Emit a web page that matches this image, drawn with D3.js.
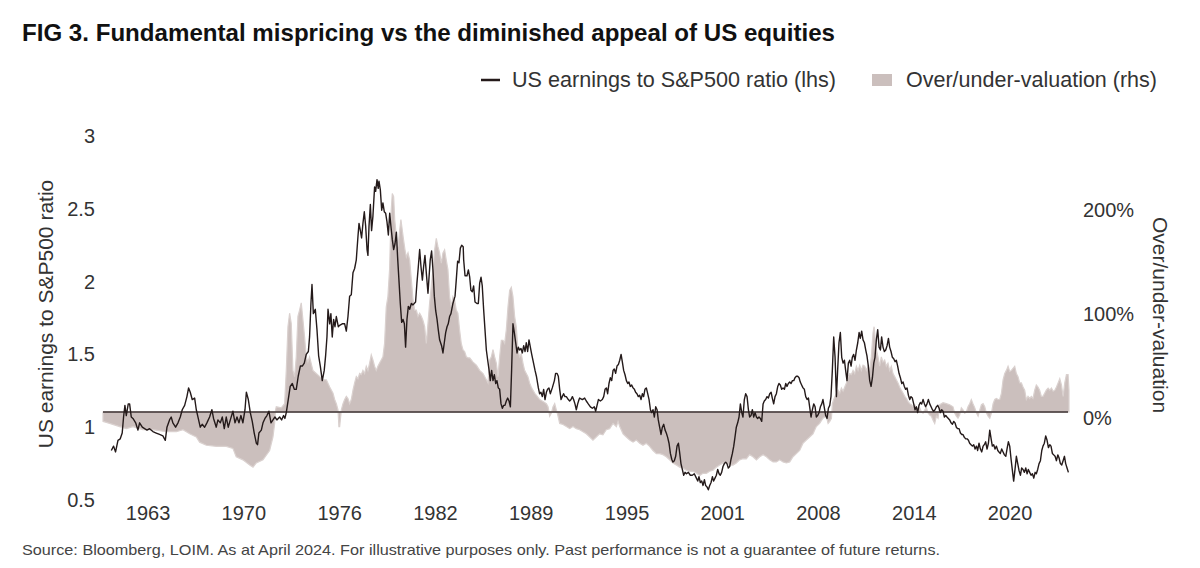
<!DOCTYPE html>
<html>
<head>
<meta charset="utf-8">
<script src="https://cdn.jsdelivr.net/npm/d3@7"></script>
<style>
  body { margin: 0; background: #fff; }
  svg { display: block; font-family: "Liberation Sans", Arial, Helvetica, sans-serif; }
</style>
</head>
<body>
<svg id="chart" width="1200" height="568"></svg>
<script>
// US earnings to S&P500 ratio (lhs): [decimal year, ratio]
const ratioPoints = [
  [1961.40,0.84],[1961.55,0.87],[1961.68,0.83],[1961.84,0.91],[1961.99,0.92],[1962.12,0.96],[1962.21,1.07],[1962.30,1.15],
  [1962.39,1.08],[1962.52,1.16],[1962.61,1.16],[1962.72,1.07],[1962.83,1.06],[1963.01,1.03],[1963.16,0.98],[1963.27,1.03],
  [1963.45,1.00],[1963.60,0.99],[1963.76,0.98],[1963.93,0.99],[1964.15,0.97],[1964.37,0.96],[1964.59,0.95],[1964.81,0.94],
  [1964.97,0.91],[1965.08,1.00],[1965.25,1.05],[1965.36,1.07],[1965.47,1.03],[1965.65,1.00],[1965.81,1.03],[1965.96,1.07],
  [1966.09,1.12],[1966.25,1.15],[1966.40,1.21],[1966.51,1.27],[1966.62,1.24],[1966.75,1.19],[1966.91,1.20],[1967.02,1.12],
  [1967.15,1.06],[1967.28,1.00],[1967.41,1.02],[1967.57,1.00],[1967.72,1.03],[1967.90,1.07],[1968.05,1.12],[1968.16,1.06],
  [1968.34,1.00],[1968.45,1.05],[1968.61,1.03],[1968.74,1.07],[1968.87,0.99],[1969.00,1.07],[1969.13,1.00],[1969.27,1.05],
  [1969.44,1.11],[1969.58,1.03],[1969.71,1.07],[1969.84,1.03],[1969.97,1.08],[1970.10,1.03],[1970.24,1.12],[1970.33,1.24],
  [1970.46,1.19],[1970.59,1.10],[1970.72,1.04],[1970.85,0.96],[1970.99,0.89],[1971.07,0.88],[1971.16,0.96],[1971.32,0.98],
  [1971.43,1.03],[1971.56,1.06],[1971.69,1.08],[1971.82,1.11],[1971.96,1.03],[1972.09,1.05],[1972.22,1.07],[1972.35,1.05],
  [1972.53,1.07],[1972.66,1.05],[1972.79,1.08],[1972.88,1.06],[1972.97,1.10],[1973.10,1.19],[1973.23,1.28],[1973.37,1.30],
  [1973.50,1.26],[1973.63,1.26],[1973.76,1.35],[1973.90,1.42],[1974.03,1.42],[1974.16,1.44],[1974.29,1.50],[1974.43,1.52],
  [1974.51,1.62],[1974.60,1.85],[1974.67,1.98],[1974.76,1.78],[1974.89,1.81],[1975.00,1.67],[1975.11,1.49],[1975.22,1.42],
  [1975.35,1.32],[1975.48,1.39],[1975.57,1.49],[1975.66,1.62],[1975.73,1.81],[1975.84,1.71],[1975.92,1.78],[1976.01,1.62],
  [1976.10,1.74],[1976.19,1.69],[1976.28,1.76],[1976.41,1.69],
  [1976.50,1.70],[1976.67,1.71],[1976.83,1.71],[1976.94,1.66],[1977.05,1.76],[1977.16,1.90],[1977.27,1.91],[1977.38,2.06],
  [1977.49,2.09],[1977.60,2.15],[1977.71,2.31],[1977.78,2.40],[1977.87,2.35],[1977.95,2.30],[1978.04,2.40],[1978.13,2.48],
  [1978.22,2.38],[1978.31,2.22],[1978.37,2.18],[1978.44,2.38],[1978.53,2.53],[1978.61,2.35],[1978.70,2.45],[1978.81,2.65],
  [1978.88,2.62],[1978.97,2.70],[1979.05,2.64],[1979.10,2.69],[1979.19,2.63],[1979.28,2.49],[1979.36,2.54],[1979.45,2.48],
  [1979.54,2.47],[1979.63,2.41],[1979.72,2.32],[1979.81,2.47],[1979.89,2.38],[1979.98,2.29],[1980.07,2.22],[1980.16,2.26],
  [1980.25,2.34],[1980.33,2.17],[1980.42,2.01],[1980.51,1.85],[1980.60,1.72],[1980.69,1.74],[1980.78,1.71],[1980.86,1.55],
  [1980.95,1.74],[1981.04,1.83],[1981.13,1.81],[1981.24,1.85],[1981.35,1.84],[1981.52,1.86],[1981.61,1.99],[1981.70,2.10],
  [1981.79,2.22],[1981.88,2.10],[1981.97,2.01],[1982.05,2.10],[1982.14,2.18],[1982.23,2.06],[1982.34,1.92],[1982.41,2.03],
  [1982.49,2.15],[1982.58,2.21],[1982.67,2.08],[1982.76,1.90],[1982.85,1.80],[1982.94,1.74],[1983.02,1.67],[1983.11,1.60],
  [1983.24,1.56],[1983.33,1.51],[1983.42,1.58],[1983.51,1.65],[1983.60,1.69],[1983.68,1.71],[1983.77,1.76],[1983.86,1.78],
  [1983.99,1.85],[1984.13,1.90],[1984.21,2.01],[1984.30,2.14],[1984.39,2.13],[1984.48,2.23],[1984.57,2.25],[1984.67,2.24],
  [1984.70,2.15],[1984.79,2.04],[1984.92,2.04],[1985.01,2.08],[1985.10,2.03],[1985.18,1.94],[1985.27,1.93],[1985.36,1.97],
  [1985.45,1.86],[1985.58,1.85],[1985.67,1.85],[1985.76,1.99],[1985.85,2.03],[1985.93,1.97],[1986.02,1.81],[1986.11,1.67],
  [1986.20,1.53],[1986.29,1.46],[1986.37,1.40],[1986.46,1.32],[1986.55,1.39],[1986.64,1.32],[1986.73,1.36],[1986.82,1.30],
  [1986.90,1.32],[1986.99,1.27],[1987.08,1.26],[1987.17,1.16],[1987.26,1.13],[1987.34,1.15],[1987.43,1.15],[1987.52,1.18],
  [1987.61,1.20],[1987.70,1.18],[1987.79,1.14],[1987.87,1.39],[1987.96,1.71],[1988.05,1.65],[1988.14,1.58],[1988.23,1.51],
  [1988.31,1.55],[1988.40,1.53],[1988.49,1.54],[1988.58,1.51],[1988.67,1.56],[1988.76,1.52],[1988.84,1.58],[1988.93,1.52],
  [1989.02,1.60],[1989.11,1.55],[1989.20,1.50],[1989.28,1.46],[1989.42,1.39],[1989.51,1.35],[1989.64,1.27],[1989.72,1.23],
  [1989.81,1.24],[1989.90,1.21],[1989.99,1.26],[1990.08,1.19],[1990.17,1.24],[1990.25,1.26],[1990.34,1.27],[1990.43,1.23],
  [1990.56,1.27],[1990.70,1.32],[1990.78,1.37],[1990.87,1.37],[1990.96,1.35],[1991.05,1.26],[1991.14,1.19],[1991.22,1.21],
  [1991.31,1.23],[1991.40,1.21],[1991.49,1.21],[1991.62,1.19],[1991.71,1.18],[1991.80,1.19],[1991.89,1.21],[1991.97,1.19],
  [1992.06,1.16],[1992.15,1.12],[1992.24,1.16],[1992.33,1.19],
  [1992.37,1.20],[1992.55,1.19],[1992.70,1.20],[1992.81,1.18],[1992.94,1.16],[1993.08,1.14],[1993.21,1.13],[1993.34,1.14],
  [1993.43,1.11],[1993.52,1.15],[1993.61,1.19],[1993.74,1.18],[1993.87,1.19],[1993.96,1.21],[1994.05,1.26],[1994.14,1.27],
  [1994.22,1.23],[1994.31,1.30],[1994.40,1.34],[1994.49,1.32],[1994.58,1.39],[1994.66,1.40],[1994.75,1.37],[1994.84,1.42],
  [1994.93,1.43],[1995.02,1.46],[1995.11,1.50],[1995.19,1.45],[1995.28,1.39],[1995.37,1.36],[1995.46,1.32],[1995.55,1.30],
  [1995.63,1.31],[1995.72,1.28],[1995.81,1.29],[1995.90,1.27],[1995.99,1.26],[1996.07,1.24],[1996.16,1.23],[1996.25,1.21],
  [1996.34,1.22],[1996.43,1.19],[1996.52,1.23],[1996.60,1.21],[1996.69,1.26],[1996.78,1.27],[1996.87,1.23],[1996.96,1.19],
  [1997.05,1.12],[1997.13,1.10],[1997.22,1.12],[1997.31,1.07],[1997.40,1.14],[1997.49,1.12],[1997.57,1.05],[1997.66,1.00],
  [1997.75,0.95],[1997.84,1.00],[1997.93,1.02],[1998.02,0.98],[1998.10,0.96],[1998.19,0.93],[1998.28,0.89],[1998.37,0.82],
  [1998.46,0.78],[1998.54,0.76],[1998.63,0.77],[1998.72,0.80],[1998.81,0.87],[1998.90,0.89],[1998.99,0.82],[1999.07,0.75],
  [1999.16,0.71],[1999.25,0.67],[1999.34,0.69],[1999.43,0.68],[1999.56,0.69],[1999.69,0.67],[1999.82,0.67],[1999.95,0.68],
  [2000.09,0.65],[2000.18,0.63],[2000.26,0.66],[2000.35,0.62],[2000.44,0.63],[2000.53,0.60],[2000.62,0.64],[2000.70,0.60],
  [2000.79,0.59],[2000.88,0.57],[2000.97,0.60],[2001.06,0.62],[2001.15,0.66],[2001.23,0.63],[2001.32,0.65],[2001.41,0.67],
  [2001.50,0.71],[2001.59,0.68],[2001.67,0.67],[2001.76,0.69],[2001.85,0.73],[2001.94,0.75],[2002.03,0.76],[2002.11,0.75],
  [2002.20,0.72],[2002.29,0.73],[2002.38,0.78],[2002.47,0.82],[2002.56,0.87],[2002.64,0.93],[2002.73,1.00],[2002.82,1.03],
  [2002.91,1.07],[2003.00,1.16],[2003.09,1.10],[2003.17,1.07],[2003.26,1.19],[2003.35,1.23],[2003.44,1.21],[2003.53,1.12],
  [2003.61,1.07],[2003.70,1.08],[2003.79,1.12],[2003.88,1.07],[2003.97,1.10],[2004.06,1.07],[2004.14,1.06],[2004.23,1.07],
  [2004.32,1.06],[2004.41,1.04],[2004.50,1.16],[2004.58,1.18],[2004.67,1.19],[2004.76,1.21],[2004.85,1.20],[2004.94,1.23],
  [2005.03,1.24],[2005.11,1.20],[2005.20,1.16],[2005.29,1.21],[2005.38,1.23],[2005.47,1.28],[2005.55,1.30],[2005.64,1.29],
  [2005.73,1.26],[2005.82,1.27],[2005.91,1.26],[2006.00,1.30],[2006.08,1.28],[2006.17,1.30],[2006.26,1.31],[2006.35,1.30],
  [2006.44,1.32],[2006.53,1.32],[2006.61,1.34],[2006.70,1.35],[2006.79,1.35],[2006.88,1.34],[2006.96,1.31],[2007.05,1.29],
  [2007.14,1.27],[2007.23,1.26],[2007.32,1.21],[2007.41,1.19],[2007.50,1.20],[2007.58,1.14],[2007.67,1.07],[2007.76,1.12],
  [2007.85,1.16],[2007.94,1.14],[2008.02,1.07],[2008.11,1.08],[2008.20,1.10],[2008.29,1.14],[2008.38,1.16],[2008.46,1.19],
  [2008.64,1.08],[2008.73,1.06],[2008.82,1.13],[2008.91,1.15],[2008.99,1.21],[2009.08,1.39],[2009.17,1.62],[2009.26,1.48],
  [2009.35,1.21],[2009.43,1.39],[2009.52,1.58],[2009.61,1.65],[2009.70,1.48],[2009.79,1.44],[2009.88,1.46],[2009.96,1.39],
  [2010.05,1.32],[2010.14,1.44],[2010.23,1.46],[2010.32,1.42],[2010.40,1.48],[2010.49,1.50],[2010.58,1.46],[2010.67,1.53],
  [2010.76,1.58],[2010.85,1.65],[2010.93,1.61],[2011.02,1.66],[2011.11,1.60],[2011.20,1.58],[2011.29,1.53],[2011.37,1.49],
  [2011.46,1.42],[2011.55,1.32],[2011.64,1.28],[2011.73,1.34],[2011.82,1.44],[2011.90,1.48],[2011.99,1.60],[2012.08,1.67],
  [2012.17,1.55],[2012.26,1.53],[2012.34,1.62],[2012.43,1.55],[2012.52,1.52],[2012.61,1.53],[2012.70,1.56],[2012.79,1.61],
  [2012.87,1.55],[2012.96,1.52],[2013.05,1.48],[2013.14,1.47],[2013.23,1.45],[2013.31,1.46],[2013.40,1.42],[2013.49,1.37],
  [2013.58,1.34],[2013.67,1.30],[2013.76,1.31],[2013.84,1.28],[2013.93,1.26],[2014.02,1.27],[2014.11,1.22],[2014.20,1.19],
  [2014.28,1.21],[2014.37,1.20],[2014.46,1.16],[2014.55,1.12],[2014.64,1.14],[2014.72,1.10],[2014.81,1.15],[2014.90,1.17],
  [2014.99,1.16],[2015.08,1.19],[2015.17,1.16],[2015.25,1.14],[2015.34,1.16],[2015.43,1.19],[2015.52,1.16],[2015.61,1.14],
  [2015.70,1.12],[2015.78,1.11],[2015.87,1.12],[2015.96,1.14],[2016.05,1.15],[2016.14,1.13],[2016.22,1.10],[2016.31,1.12],
  [2016.40,1.11],[2016.49,1.07],[2016.58,1.08],[2016.66,1.07],[2016.75,1.06],[2016.84,1.05],[2016.93,1.03],[2017.02,1.02],
  [2017.11,1.04],[2017.19,1.03],[2017.28,1.00],[2017.37,0.99],[2017.46,0.99],[2017.55,0.96],[2017.64,0.95],[2017.72,0.95],
  [2017.81,0.93],[2017.90,0.92],[2017.99,0.92],[2018.08,0.91],[2018.16,0.89],[2018.25,0.88],[2018.34,0.87],[2018.43,0.88],
  [2018.52,0.85],[2018.61,0.87],[2018.69,0.84],[2018.78,0.89],[2018.87,0.85],[2018.96,0.83],[2019.05,0.87],[2019.13,0.88],
  [2019.22,0.90],[2019.31,0.85],[2019.40,0.89],[2019.49,0.98],[2019.58,0.92],[2019.66,0.87],[2019.75,0.88],[2019.84,0.85],
  [2019.93,0.87],[2020.02,0.84],[2020.10,0.83],[2020.19,0.82],[2020.28,0.85],[2020.37,0.83],[2020.46,0.81],[2020.55,0.80],
  [2020.63,0.85],[2020.72,0.90],[2020.81,0.87],[2020.90,0.78],[2020.99,0.70],[2021.07,0.63],[2021.16,0.71],[2021.25,0.80],
  [2021.34,0.75],[2021.43,0.70],[2021.52,0.67],[2021.60,0.72],[2021.69,0.71],[2021.78,0.69],[2021.87,0.72],[2021.96,0.68],
  [2022.04,0.71],[2022.13,0.69],[2022.22,0.67],[2022.31,0.68],[2022.40,0.65],[2022.49,0.69],[2022.57,0.68],[2022.66,0.71],
  [2022.75,0.75],[2022.84,0.77],[2022.93,0.84],[2023.01,0.87],[2023.10,0.89],[2023.19,0.94],[2023.28,0.91],[2023.37,0.86],
  [2023.46,0.88],[2023.54,0.87],[2023.63,0.82],[2023.72,0.81],[2023.81,0.80],[2023.90,0.77],[2023.99,0.81],[2024.07,0.79],
  [2024.16,0.75],[2024.25,0.74],[2024.34,0.77],[2024.43,0.80],[2024.51,0.75],[2024.60,0.72],[2024.69,0.69]
];

// Over/under-valuation (rhs): [decimal year, fraction where 1 = 100%]
const valuationPoints = [
  [1960.85,-0.09],[1961.29,-0.11],[1961.95,-0.14],[1962.39,-0.16],[1962.83,-0.14],[1963.49,-0.17],[1964.15,-0.17],[1965.03,-0.19],
  [1965.70,-0.19],[1966.14,-0.17],[1966.58,-0.21],[1967.02,-0.24],[1967.24,-0.29],[1967.68,-0.32],[1968.34,-0.33],[1969.00,-0.33],
  [1969.44,-0.35],[1969.66,-0.43],[1970.10,-0.46],[1970.55,-0.51],[1970.77,-0.53],[1970.99,-0.49],[1971.43,-0.46],[1971.87,-0.37],
  [1972.09,-0.24],[1972.20,-0.11],[1972.26,0.02],[1972.31,0.05],[1972.64,0.04],[1972.86,0.08],[1972.97,0.40],[1973.08,0.82],
  [1973.19,0.95],[1973.30,0.85],[1973.41,0.40],[1973.52,0.34],[1973.63,0.53],[1973.74,0.92],[1973.85,0.98],[1973.96,1.05],
  [1974.07,0.89],[1974.18,0.72],[1974.29,0.53],[1974.40,0.48],[1974.51,0.53],[1974.73,0.40],[1974.95,0.37],[1975.18,0.34],
  [1975.40,0.31],[1975.62,0.31],[1975.84,0.24],[1976.06,0.18],[1976.17,0.12],[1976.28,0.08],[1976.39,0.02],[1976.45,-0.14],
  [1976.50,-0.14],[1976.61,0.02],[1976.72,0.08],[1976.83,0.12],[1976.94,0.15],[1977.05,0.13],[1977.16,0.08],[1977.27,0.12],
  [1977.38,0.21],[1977.49,0.28],[1977.60,0.34],[1977.71,0.32],[1977.82,0.37],[1977.93,0.36],[1978.04,0.40],[1978.15,0.37],
  [1978.26,0.44],[1978.37,0.40],[1978.48,0.47],[1978.59,0.55],[1978.70,0.50],[1978.81,0.44],[1978.92,0.40],[1979.03,0.44],
  [1979.14,0.47],[1979.25,0.50],[1979.36,0.53],[1979.47,0.66],[1979.58,1.01],[1979.69,1.11],[1979.80,1.37],[1979.91,1.94],
  [1979.98,2.10],[1980.07,2.07],[1980.14,1.85],[1980.25,1.69],[1980.36,1.59],[1980.47,1.75],[1980.55,1.85],[1980.64,1.75],
  [1980.73,1.65],[1980.82,1.56],[1980.91,1.49],[1981.02,1.53],[1981.13,1.46],[1981.24,1.27],[1981.35,1.08],[1981.46,0.98],
  [1981.57,0.98],[1981.68,0.92],[1981.79,0.95],[1981.90,0.92],[1982.01,0.88],[1982.12,0.82],[1982.23,0.66],[1982.34,0.85],
  [1982.45,1.05],[1982.56,1.21],[1982.67,1.37],[1982.78,1.56],[1982.89,1.67],[1983.00,1.59],[1983.11,1.53],[1983.22,1.43],
  [1983.33,1.53],[1983.44,1.56],[1983.55,1.46],[1983.66,1.37],[1983.77,1.11],[1983.88,1.01],[1983.99,1.11],[1984.10,1.08],
  [1984.21,0.98],[1984.32,0.95],[1984.43,0.79],[1984.54,0.66],[1984.65,0.60],[1984.77,0.58],[1984.88,0.53],[1984.99,0.52],
  [1985.10,0.52],[1985.32,0.48],[1985.54,0.45],[1985.76,0.40],[1985.98,0.37],[1986.20,0.31],[1986.31,0.28],[1986.42,0.50],
  [1986.53,0.53],[1986.64,0.60],[1986.75,0.53],[1986.86,0.47],[1986.97,0.34],[1987.08,0.53],[1987.19,0.69],[1987.30,0.69],
  [1987.41,0.66],[1987.52,0.79],[1987.63,1.01],[1987.74,1.17],[1987.85,1.20],[1987.96,1.11],[1988.07,0.92],[1988.18,0.82],
  [1988.29,0.60],[1988.40,0.53],[1988.51,0.56],[1988.62,0.47],[1988.73,0.40],[1988.84,0.37],[1988.95,0.34],[1989.06,0.28],
  [1989.17,0.24],[1989.28,0.21],[1989.40,0.18],[1989.51,0.16],[1989.73,0.12],[1989.95,0.10],[1990.17,0.08],[1990.28,0.05],
  [1990.39,-0.04],[1990.50,-0.01],[1990.61,0.05],[1990.72,0.08],[1990.83,0.02],[1990.94,-0.04],[1991.05,-0.11],[1991.27,-0.12],
  [1991.49,-0.14],[1991.71,-0.16],[1991.93,-0.14],[1992.15,-0.16],
  [1992.37,-0.17],[1992.81,-0.21],[1993.25,-0.27],[1993.47,-0.24],[1993.69,-0.21],[1993.91,-0.22],[1994.13,-0.17],[1994.35,-0.16],
  [1994.58,-0.11],[1994.80,-0.14],[1994.91,-0.09],[1995.02,-0.14],[1995.24,-0.21],[1995.46,-0.24],[1995.68,-0.27],[1995.90,-0.29],
  [1996.12,-0.27],[1996.34,-0.30],[1996.56,-0.32],[1996.78,-0.30],[1997.00,-0.33],[1997.22,-0.37],[1997.44,-0.40],[1997.66,-0.40],
  [1997.88,-0.41],[1998.10,-0.43],[1998.32,-0.46],[1998.54,-0.49],[1998.76,-0.51],[1998.98,-0.53],[1999.20,-0.54],[1999.43,-0.56],
  [1999.65,-0.57],[1999.87,-0.57],[2000.09,-0.59],[2000.31,-0.61],[2000.53,-0.59],[2000.75,-0.59],[2000.97,-0.57],[2001.19,-0.56],
  [2001.41,-0.53],[2001.63,-0.51],[2001.85,-0.49],[2002.07,-0.49],[2002.29,-0.51],[2002.51,-0.51],[2002.73,-0.49],[2002.95,-0.46],
  [2003.17,-0.45],[2003.39,-0.45],[2003.61,-0.41],[2003.83,-0.43],[2004.06,-0.46],[2004.28,-0.43],[2004.50,-0.41],[2004.72,-0.43],
  [2004.94,-0.46],[2005.16,-0.48],[2005.38,-0.48],[2005.60,-0.46],[2005.82,-0.48],[2006.04,-0.49],[2006.26,-0.48],[2006.48,-0.43],
  [2006.70,-0.40],[2006.92,-0.37],[2007.14,-0.30],[2007.36,-0.27],[2007.58,-0.24],[2007.80,-0.21],[2008.02,-0.14],
  [2008.24,-0.11],[2008.46,-0.06],[2008.68,-0.04],[2008.80,-0.11],[2008.91,-0.09],[2009.02,-0.06],[2009.08,0.08],[2009.17,0.12],
  [2009.35,0.18],[2009.46,0.21],[2009.57,0.18],[2009.68,0.23],[2009.79,0.20],[2009.90,0.24],[2010.01,0.28],[2010.12,0.34],
  [2010.23,0.37],[2010.34,0.36],[2010.45,0.40],[2010.56,0.37],[2010.67,0.44],[2010.78,0.40],[2010.89,0.45],[2011.00,0.40],
  [2011.11,0.45],[2011.22,0.44],[2011.33,0.40],[2011.44,0.44],[2011.55,0.40],[2011.66,0.53],[2011.77,0.76],[2011.84,0.82],
  [2011.90,0.73],[2011.99,0.60],[2012.10,0.53],[2012.21,0.44],[2012.32,0.53],[2012.43,0.48],[2012.54,0.50],[2012.65,0.44],
  [2012.76,0.47],[2012.87,0.40],[2012.98,0.44],[2013.09,0.37],[2013.20,0.34],[2013.31,0.31],[2013.42,0.28],[2013.53,0.24],
  [2013.64,0.21],[2013.76,0.18],[2013.87,0.15],[2013.98,0.13],[2014.09,0.10],[2014.20,0.08],[2014.31,0.07],[2014.42,0.05],
  [2014.53,0.07],[2014.64,0.04],[2014.75,0.02],[2014.86,0.04],[2014.97,0.00],[2015.08,-0.01],[2015.19,0.02],[2015.30,0.04],
  [2015.41,-0.01],[2015.52,-0.03],[2015.63,-0.04],[2015.74,-0.08],[2015.85,-0.11],[2015.96,-0.04],[2016.07,-0.06],[2016.18,0.07],
  [2016.29,0.08],[2016.40,0.09],[2016.62,0.08],[2016.84,0.07],[2017.06,0.05],[2017.17,-0.01],[2017.28,-0.04],[2017.39,-0.06],
  [2017.50,-0.03],[2017.61,0.04],[2017.72,0.02],[2017.83,-0.01],[2017.94,0.00],[2018.05,0.05],[2018.16,0.08],[2018.27,0.12],
  [2018.38,0.08],[2018.50,0.04],[2018.61,-0.01],[2018.72,-0.04],[2018.83,0.02],[2018.94,0.07],[2019.05,0.08],[2019.16,0.05],
  [2019.27,-0.01],[2019.38,-0.04],[2019.49,-0.06],[2019.60,-0.01],[2019.71,0.08],[2019.82,0.12],[2019.93,0.13],[2020.04,0.12],
  [2020.15,0.12],[2020.26,0.18],[2020.37,0.31],[2020.48,0.37],[2020.59,0.40],[2020.70,0.44],[2020.81,0.39],[2020.92,0.40],
  [2021.03,0.42],[2021.14,0.44],[2021.25,0.37],[2021.36,0.34],[2021.47,0.28],[2021.58,0.28],[2021.69,0.24],[2021.80,0.21],
  [2021.91,0.12],[2022.02,0.15],[2022.13,0.13],[2022.24,0.15],[2022.35,0.13],[2022.46,0.21],[2022.57,0.26],[2022.68,0.24],
  [2022.79,0.21],[2022.90,0.15],[2023.01,0.15],[2023.12,0.18],[2023.23,0.21],[2023.35,0.23],[2023.46,0.21],[2023.57,0.23],
  [2023.68,0.20],[2023.79,0.21],[2023.90,0.24],[2024.01,0.28],[2024.12,0.32],[2024.23,0.26],[2024.34,0.15],[2024.45,0.28],
  [2024.56,0.36],[2024.67,0.36],[2024.73,0.21]
];

const leftTicks = [0.5, 1, 1.5, 2, 2.5, 3];
const rightTicks = [0, 1, 2];
const rightTickLabels = ["0%", "100%", "200%"];
const xTickDates = [1963.8, 1970.13, 1976.47, 1982.8, 1989.13, 1995.47, 2001.8, 2008.13, 2014.47, 2020.8];
const xTickLabels = ["1963", "1970", "1976", "1982", "1989", "1995", "2001", "2008", "2014", "2020"];

const titleText = "FIG 3. Fundamental mispricing vs the diminished appeal of US equities";
const legendLabels = ["US earnings to S&P500 ratio (lhs)", "Over/under-valuation (rhs)"];
const leftTitle = "US earnings to S&P500 ratio";
const rightTitle = "Over/under-valuation";
const sourceText = "Source: Bloomberg, LOIM. As at April 2024. For illustrative purposes only. Past performance is not a guarantee of future returns.";

// ── Chart ─────────────────────────────────────────────────────────────────────

const lineColor = "#241a1a";
const areaColor = "#cbbfbd";
const textColor = "#333";

const svg = d3.select("#chart");

const x = d3.scaleLinear().domain([1960.85, 2024.73]).range([103, 1069]);
const yL = d3.scaleLinear().domain([0.5, 3]).range([500, 136]);
const yR = d3.scaleLinear().domain([0, 2]).range([412, 204]);

// Title.
svg.append("text")
  .attr("x", 22).attr("y", 41)
  .attr("font-size", "24px").attr("font-weight", "bold").attr("fill", "#111")
  .attr("textLength", 813).attr("lengthAdjust", "spacingAndGlyphs")
  .text(titleText);

// Legend.
const legend = svg.append("g").attr("font-size", "21.5px").attr("fill", textColor);
legend.append("line")
  .attr("x1", 481).attr("x2", 500).attr("y1", 80).attr("y2", 80)
  .attr("stroke", lineColor).attr("stroke-width", 2.5);
legend.append("text").attr("x", 512).attr("y", 87)
  .attr("textLength", 324).attr("lengthAdjust", "spacingAndGlyphs")
  .text(legendLabels[0]);
legend.append("rect")
  .attr("x", 872).attr("y", 74).attr("width", 20).attr("height", 12)
  .attr("fill", areaColor);
legend.append("text").attr("x", 906).attr("y", 87)
  .attr("textLength", 251).attr("lengthAdjust", "spacingAndGlyphs")
  .text(legendLabels[1]);

// Over/under-valuation area (rhs).
const area = d3.area()
  .x(d => x(d[0]))
  .y0(yR(0))
  .y1(d => yR(d[1]));

svg.append("path")
  .datum(valuationPoints)
  .attr("d", area)
  .attr("fill", areaColor)
  .attr("stroke", "#dad1cf")
  .attr("stroke-width", 1.2);

// Zero line for the rhs.
svg.append("line")
  .attr("x1", 103).attr("x2", 1068)
  .attr("y1", yR(0)).attr("y2", yR(0))
  .attr("stroke", "#3a2f2f").attr("stroke-width", 1.3);

// Ratio line (lhs).
const line = d3.line()
  .x(d => x(d[0]))
  .y(d => yL(d[1]));

svg.append("path")
  .datum(ratioPoints)
  .attr("d", line)
  .attr("fill", "none")
  .attr("stroke", lineColor)
  .attr("stroke-width", 1.4)
  .attr("stroke-linejoin", "round");

// Axes.
function styleAxis(g) {
  g.select(".domain").remove();
  g.selectAll("line").remove();
  g.selectAll("text")
    .attr("font-size", "20px")
    .attr("font-family", "\"Liberation Sans\", Arial, sans-serif")
    .attr("fill", textColor);
}

svg.append("g")
  .attr("transform", "translate(95,0)")
  .call(d3.axisLeft(yL).tickValues(leftTicks).tickSize(0).tickPadding(0).tickFormat(d3.format("")))
  .call(styleAxis);

svg.append("g")
  .attr("transform", "translate(1083,0)")
  .call(d3.axisRight(yR).tickValues(rightTicks).tickSize(0).tickPadding(0)
    .tickFormat((d, i) => rightTickLabels[i]))
  .call(styleAxis)
  .selectAll("text").attr("y", 6);

svg.append("g")
  .attr("transform", "translate(0,500)")
  .call(d3.axisBottom(x).tickValues(xTickDates).tickSize(0).tickPadding(6)
    .tickFormat((d, i) => xTickLabels[i]))
  .call(styleAxis);

// Axis titles.
svg.append("text")
  .attr("transform", "translate(45,314) rotate(-90)")
  .attr("text-anchor", "middle").attr("dominant-baseline", "central")
  .attr("font-size", "21px").attr("fill", textColor)
  .text(leftTitle);

svg.append("text")
  .attr("transform", "translate(1160,315) rotate(90)")
  .attr("text-anchor", "middle").attr("dominant-baseline", "central")
  .attr("font-size", "21px").attr("fill", textColor)
  .text(rightTitle);

// Source note.
svg.append("text")
  .attr("x", 22).attr("y", 555)
  .attr("font-size", "15px").attr("fill", "#444")
  .attr("textLength", 918).attr("lengthAdjust", "spacingAndGlyphs")
  .text(sourceText);
</script>
</body>
</html>
